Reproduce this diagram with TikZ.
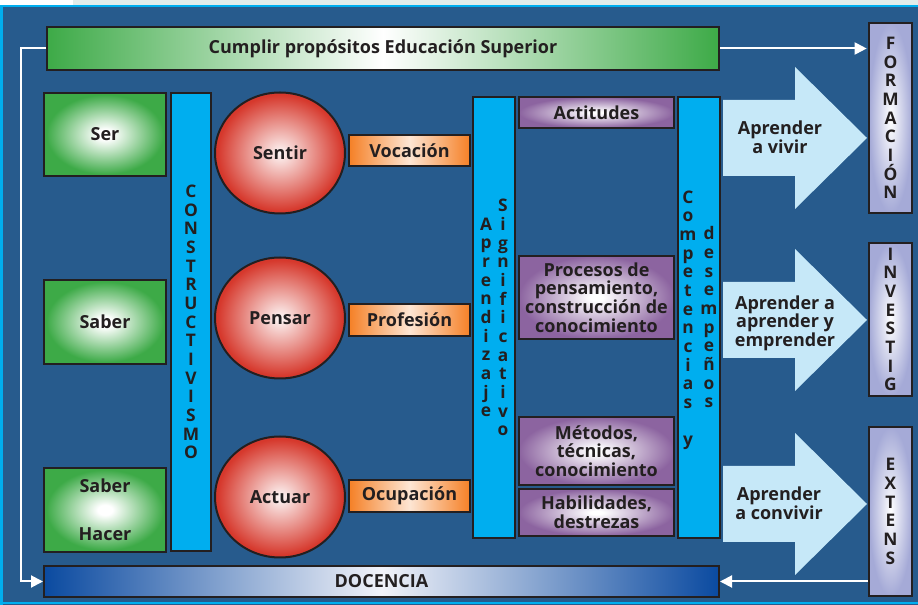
\documentclass[tikz,border=0pt]{standalone}
\usepackage{fontspec}
\setmainfont{Open Sans}
\usetikzlibrary{shapes.geometric,arrows.meta}

\definecolor{fondo}{RGB}{39,91,141}
\definecolor{franja}{RGB}{226,236,234}
\definecolor{celeste}{RGB}{0,174,239}
\definecolor{verde}{RGB}{61,170,71}
\definecolor{rojo}{RGB}{214,56,44}
\definecolor{naranja}{RGB}{245,128,38}
\definecolor{morado}{RGB}{140,100,160}
\definecolor{lila}{RGB}{165,170,215}
\definecolor{flecha}{RGB}{198,232,248}
\definecolor{azuldoc}{RGB}{10,74,160}
\definecolor{borde}{RGB}{35,31,32}

\pgfdeclareradialshading{brillo verde}{\pgfpoint{0bp}{0bp}}{color(0bp)=(white); color(3bp)=(white); color(24bp)=(verde); color(50bp)=(verde)}
\pgfdeclareradialshading{brillo rojo}{\pgfpoint{0bp}{0bp}}{color(0bp)=(rojo!4); color(24bp)=(rojo); color(50bp)=(rojo)}
\pgfdeclareradialshading{brillo morado}{\pgfpoint{0bp}{0bp}}{color(0bp)=(white); color(2bp)=(white); color(25bp)=(morado); color(50bp)=(morado)}
\pgfdeclareradialshading{brillo lila}{\pgfpoint{0bp}{0bp}}{color(0bp)=(white); color(25bp)=(lila); color(50bp)=(lila)}

\begin{document}
\begin{tikzpicture}[x=0.75pt, y=-0.75pt,
  txt/.style={text=borde, font=\bfseries\fontsize{13.5}{14}\selectfont, align=center},
  caja/.style={txt, draw=borde, line width=1.5pt, inner sep=0pt},
  letras/.style={text=borde, font=\bfseries\fontsize{13}{14}\selectfont, align=center, inner sep=0pt},
  barra/.style={caja, letras, draw=borde, fill=celeste, minimum width=31.5pt, minimum height=330.75pt},
  verdecaja/.style={caja, minimum width=91.5pt, minimum height=63pt, shading=brillo verde},
  circulo/.style={caja, ellipse, minimum width=97.5pt, minimum height=90.75pt, shading=brillo rojo},
  naranjacaja/.style={caja, minimum width=90.75pt, minimum height=23.5pt, left color=naranja, right color=naranja, middle color=naranja!20},
  moradocaja/.style={caja, minimum width=116.25pt, shading=brillo morado},
  lilacaja/.style={caja, letras, draw=borde, minimum width=32.25pt, shading=brillo lila},
  conector/.style={white, line width=1.5pt, -{Triangle[length=9pt, width=9pt]}}]

\useasboundingbox (0,0) rectangle (918,605);
\fill[white] (0,0) rectangle (918,605);
\fill[franja] (73,0) rectangle (918,6);
\fill[fondo] (0,6) rectangle (918,605);
\draw[celeste, line width=1.5pt] (1.5,605) -- (1.5,6.5) -- (918,6.5);
\draw[celeste, line width=1.5pt] (0,603.5) -- (918,603.5);

\foreach \y in {138,320,504}
  \fill[flecha] (723,\y-38) -- (795,\y-38) -- (795,\y-71) -- (867,\y)
    -- (795,\y+71) -- (795,\y+38) -- (723,\y+38) -- cycle;

\node[caja, minimum width=504pt, minimum height=32.25pt, left color=verde, right color=verde, middle color=white] (cumplir) at (383,48.5) {Cumplir propósitos Educación Superior};
\node[caja, minimum width=506.25pt, minimum height=23.25pt, left color=azuldoc, right color=azuldoc, middle color=lila!15] (docencia) at (381.5,581.5) {DOCENCIA};

\node[verdecaja, minimum height=62.25pt] (ser) at (105,134.5) {Ser};
\node[verdecaja] (saber) at (105,322) {Saber};
\node[verdecaja] (saberhacer) at (105,510) {Saber\\[22pt]Hacer};

\node[barra, minimum width=30pt, minimum height=343.5pt] (constructivismo) at (191,322)
  {C\\O\\N\\S\\T\\R\\U\\C\\T\\I\\V\\I\\S\\M\\O};

\node[circulo] (sentir) at (280,153) {Sentir};
\node[circulo] (pensar) at (280,318) {Pensar};
\node[circulo] (actuar) at (280,497) {Actuar};

\node[naranjacaja] (vocacion) at (409.5,150.5) {Vocación};
\node[naranjacaja, minimum height=24pt] (profesion) at (409.5,320) {Profesión};
\node[naranjacaja, minimum height=24pt] (ocupacion) at (409.5,496) {Ocupación};

\node[barra] (aprendizaje) at (494,317.5) {};
\node[letras, xshift=-6pt] at (aprendizaje.center) {A\\p\\r\\e\\n\\d\\i\\z\\a\\j\\e};
\node[letras, xshift=6.75pt] at (aprendizaje.center) {S\\i\\g\\n\\i\\f\\i\\c\\a\\t\\i\\v\\o};

\node[moradocaja, minimum height=23.25pt] (actitudes) at (596.5,112.5) {Actitudes};
\node[moradocaja, minimum height=62.25pt] (procesos) at (596.5,297.5) {Procesos de\\pensamiento,\\construcción de\\conocimiento};
\node[moradocaja, minimum height=51pt] (metodos) at (596.5,451) {Métodos,\\técnicas,\\conocimiento};
\node[moradocaja, minimum height=35.25pt] (habilidades) at (596.5,512.5) {Habilidades,\\destrezas};

\node[barra] (competencias) at (699,317.5) {};
\node[letras, xshift=-8.25pt, yshift=-2pt] at (competencias.center) {C\\o\\m\\p\\e\\t\\e\\n\\c\\i\\a\\s\\[14pt]y};
\node[letras, xshift=7.5pt] at (competencias.center) {d\\e\\s\\e\\m\\p\\e\\ñ\\o\\s};

\node[txt] (vivir) at (780,137.5) {Aprender\\a vivir};
\node[txt] (emprender) at (785,323) {Aprender a\\aprender y\\emprender};
\node[txt] (convivir) at (779,503) {Aprender\\a convivir};

\node[lilacaja, minimum height=142.5pt] (formacion) at (890.5,118) {F\\O\\R\\M\\A\\C\\I\\Ó\\N};
\node[lilacaja, minimum height=114.75pt] (investig) at (890.5,319.5) {I\\N\\V\\E\\S\\T\\I\\G};
\node[lilacaja, minimum height=126.75pt] (extens) at (890.5,511.5) {E\\X\\T\\E\\N\\S};

\draw[conector, shorten >=1pt] (cumplir.east) -- (cumplir.east -| formacion.west);
\draw[conector] (cumplir.west) -- ++(-25,0) |- (docencia.west);
\draw[conector] (docencia.east -| extens.west) -- (docencia.east);
\end{tikzpicture}
\end{document}
